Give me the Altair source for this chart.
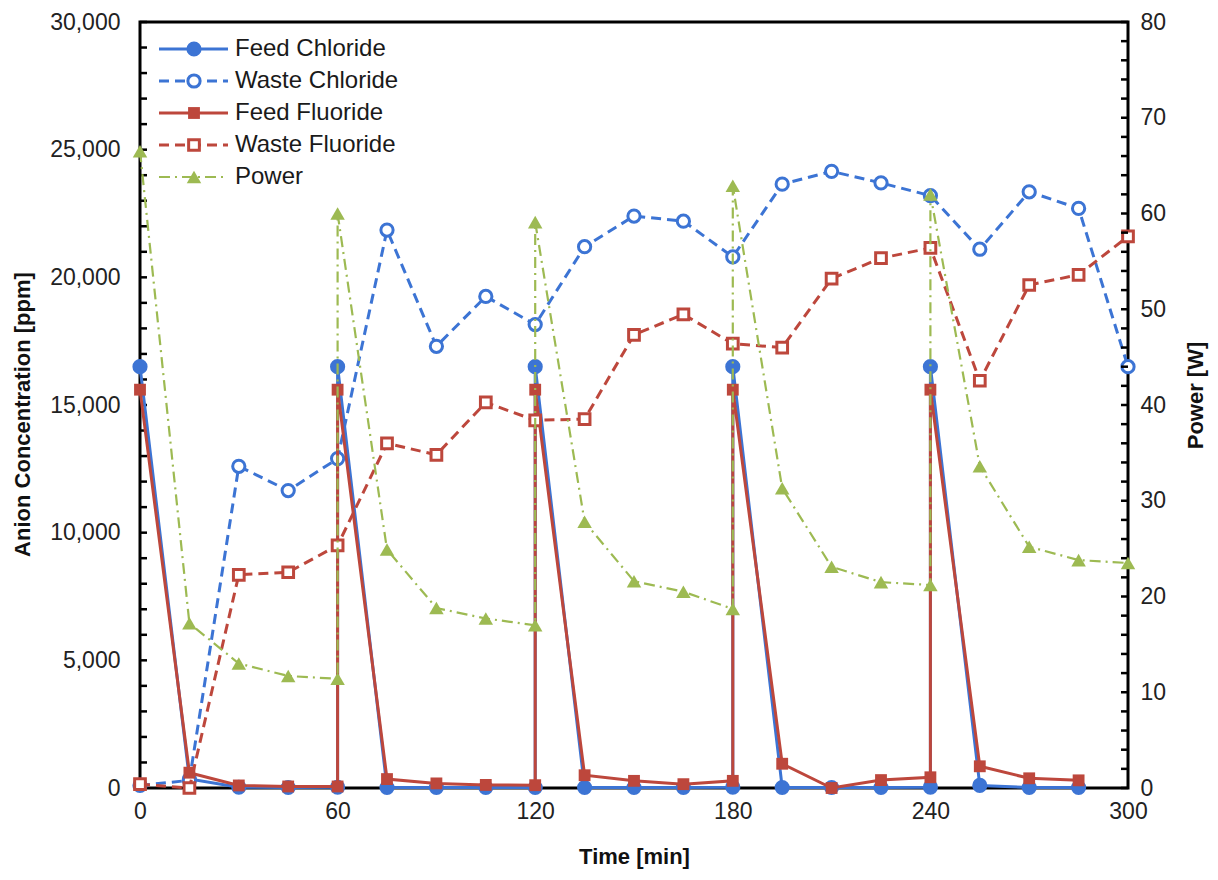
import altair as alt
import pandas as pd

# ---------------- data ----------------
t_feed = [0, 15, 30, 45, 60, 60, 75, 90, 105, 120, 120, 135, 150, 165, 180, 180,
          195, 210, 225, 240, 240, 255, 270, 285]
feed_chloride = [16500, 350, 30, 20, 30, 16500, 20, 20, 20, 20, 16500, 20, 20, 20, 30, 16500,
                 20, 20, 20, 30, 16500, 100, 20, 20]
feed_fluoride = [15600, 600, 100, 60, 60, 15600, 350, 180, 120, 110, 15600, 500, 280, 150, 280, 15600,
                 950, 0, 310, 420, 15600, 850, 380, 300]

t_waste = [0, 15, 30, 45, 60, 75, 90, 105, 120, 135, 150, 165, 180, 195, 210, 225,
           240, 255, 270, 285, 300]
waste_chloride = [100, 300, 12600, 11650, 12900, 21850, 17300, 19250, 18150, 21200, 22400,
                  22200, 20800, 23650, 24150, 23700, 23200, 21100, 23350, 22700, 16500]
waste_fluoride = [150, 0, 8350, 8450, 9500, 13500, 13050, 15100, 14400, 14450, 17750,
                  18550, 17400, 17250, 19950, 20750, 21150, 15950, 19700, 20100, 21600]

t_power = [0, 15, 30, 45, 60, 60, 75, 90, 105, 120, 120, 135, 150, 165, 180, 180,
           195, 210, 225, 240, 240, 255, 270, 285, 300]
power = [66.5, 17.2, 13.0, 11.7, 11.4, 60.0, 24.9, 18.8, 17.7, 17.0, 59.1, 27.8, 21.6, 20.5,
         18.7, 62.9, 31.3, 23.1, 21.5, 21.2, 62.0, 33.6, 25.2, 23.8, 23.5]

x_ticks = [0, 60, 120, 180, 240, 300]
left_major = [0, 5000, 10000, 15000, 20000, 25000, 30000]
right_major = [0, 10, 20, 30, 40, 50, 60, 70, 80]
left_minor = list(range(0, 30001, 1000))
right_minor = list(range(0, 81, 2))

# ---------------- styling ----------------
W, H = 988, 766
FONT = "Liberation Sans"
BLUE = "#3C74D4"
RED = "#BD473C"
GREEN = "#9DBA52"

xscale = alt.Scale(domain=[0, 300], nice=False, zero=False)
xaxis = alt.Axis(values=x_ticks, title="Time [min]", ticks=False, domain=False, grid=False,
                 labelPadding=12, titlePadding=23, labelFlush=False)
lscale = alt.Scale(domain=[0, 30000], nice=False)
laxis = alt.Axis(values=left_major, labelExpr="format(datum.value, ',')",
                 title="Anion Concentration [ppm]", ticks=False,
                 domain=False, grid=False, labelPadding=20, labelFlush=False,
                 titleAngle=270, titleX=-118, titleY=392, titleAlign="center",
                 titleBaseline="middle")
rscale = alt.Scale(domain=[0, 80], nice=False)
raxis = alt.Axis(orient="right", values=right_major, title="Power [W]",
                 ticks=False, domain=False, grid=False, labelPadding=12, labelFlush=False,
                 titleAngle=270, titleX=67, titleY=373, titleAlign="center",
                 titleBaseline="middle")


def series_layers(t, v, name, color, line_kw, shape, filled, size, legend_row, yscale, yaxis):
    df = pd.DataFrame({"t": t, "v": v, "i": list(range(len(t)))})
    base = alt.Chart(df)
    enc = dict(
        x=alt.X("t:Q", scale=xscale, axis=xaxis),
        y=alt.Y("v:Q", scale=yscale, axis=yaxis),
        order=alt.Order("i:Q"),
    )
    line = base.mark_line(color=color, clip=False, **line_kw).encode(**enc)
    if filled:
        pkw = dict(filled=True, color=color, opacity=1, strokeWidth=0)
    else:
        pkw = dict(filled=False, fill="white", fillOpacity=1, stroke=color, strokeWidth=3, opacity=1)
    pts = base.mark_point(shape=shape, size=size, clip=False, **pkw).encode(
        x=alt.X("t:Q", scale=xscale, axis=xaxis),
        y=alt.Y("v:Q", scale=yscale, axis=yaxis),
    )
    ly = 27 + 32 * legend_row
    ldf = pd.DataFrame({"name": [name]})
    lb = alt.Chart(ldf)
    lrule = lb.mark_rule(color=color, **line_kw).encode(
        x=alt.value(19), x2=alt.value(88), y=alt.value(ly))
    lpt = lb.mark_point(shape=shape, size=size, **pkw).encode(x=alt.value(54), y=alt.value(ly))
    ltxt = lb.mark_text(align="left", baseline="middle", font=FONT, fontSize=24,
                        color="#1a1a1a").encode(x=alt.value(95), y=alt.value(ly), text="name:N")
    return [line, pts, lrule, lpt, ltxt]


solid = dict(strokeWidth=3)
dashed = dict(strokeWidth=3, strokeDash=[10, 6])
dashdot = dict(strokeWidth=2.2, strokeDash=[11, 5, 2, 5])

left_layers = []
left_layers += series_layers(t_feed, feed_chloride, "Feed Chloride", BLUE, solid, "circle", True, 230, 0, lscale, laxis)
left_layers += series_layers(t_waste, waste_chloride, "Waste Chloride", BLUE, dashed, "circle", False, 150, 1, lscale, laxis)
left_layers += series_layers(t_feed, feed_fluoride, "Feed Fluoride", RED, solid, "square", True, 140, 2, lscale, laxis)
left_layers += series_layers(t_waste, waste_fluoride, "Waste Fluoride", RED, dashed, "square", False, 115, 3, lscale, laxis)

left_ticks_layer = alt.Chart(pd.DataFrame({"v": left_minor})).mark_rule(
    color="black", strokeWidth=2.5).encode(
    y=alt.Y("v:Q", scale=lscale, axis=laxis), x=alt.value(0), x2=alt.value(7))

right_layers = series_layers(t_power, power, "Power", GREEN, dashdot, "triangle-up", True, 210, 4, rscale, raxis)
right_ticks_layer = alt.Chart(pd.DataFrame({"v": right_minor})).mark_rule(
    color="black", strokeWidth=2.5).encode(
    y=alt.Y("v:Q", scale=rscale, axis=raxis), x=alt.value(W - 7), x2=alt.value(W))

left = alt.layer(left_ticks_layer, *left_layers)
right = alt.layer(right_ticks_layer, *right_layers)

chart = (
    alt.layer(left, right)
    .resolve_scale(y="independent")
    .properties(
        width=W, height=H,
        padding={"left": 140, "top": 22, "right": 90, "bottom": 92},
        autosize="none",
        background="white",
    )
    .configure_view(stroke="black", strokeWidth=3)
    .configure_axis(
        labelFont=FONT, labelFontSize=23, labelColor="#222222",
        titleFont=FONT, titleFontSize=22, titleFontWeight="bold", titleColor="#111111",
    )
)

chart.save("out.html", embed_options={"renderer": "svg", "actions": False})
